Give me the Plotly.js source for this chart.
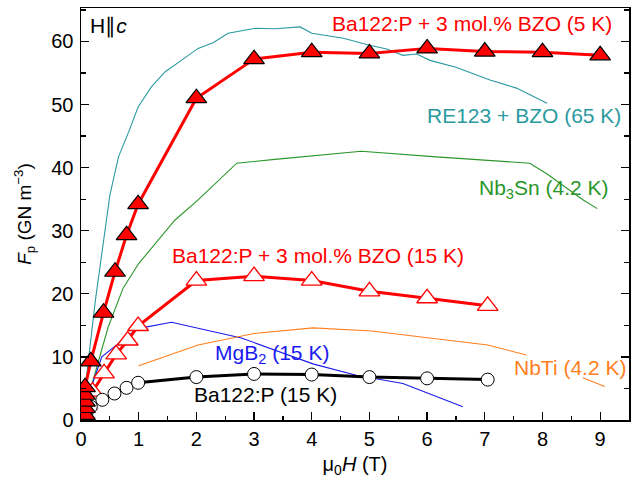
<!DOCTYPE html>
<html>
<head>
<meta charset="utf-8">
<script src="https://cdn.plot.ly/plotly-3.0.1.min.js"></script>
<style>html,body{margin:0;padding:0;background:#fff;}#chart{width:632px;height:479px;}</style>
</head>
<body>
<div id="chart"></div>
<script>
// Ba122:P + 3 mol.% BZO (5 K) - filled triangles
const bzo5_x = [0.07, 0.07, 0.07, 0.07, 0.07, 0.17, 0.39, 0.59, 0.79, 0.99, 2.0, 3.0, 4.0, 5.0, 6.0, 7.0, 8.0, 9.0];
const bzo5_y = [0.8, 1.9, 2.9, 4.0, 5.2, 9.3, 17.0, 23.5, 29.3, 34.2, 51.0, 57.2, 58.3, 58.1, 58.9, 58.4, 58.3, 57.8];
// Ba122:P + 3 mol.% BZO (15 K) - open triangles
const bzo15_x = [0.05, 0.1, 0.2, 0.4, 0.61, 0.81, 0.99, 2.0, 3.0, 4.0, 5.0, 6.0, 7.05];
const bzo15_y = [1.0, 2.4, 4.5, 7.4, 10.4, 12.6, 14.9, 22.1, 22.8, 22.1, 20.4, 19.3, 18.1];
// Ba122:P (15 K) - open circles
const ba15_x = [0.05, 0.1, 0.17, 0.37, 0.58, 0.79, 0.99, 2.0, 3.0, 4.0, 5.0, 6.0, 7.05];
const ba15_y = [0.6, 1.3, 2.1, 3.2, 4.2, 5.1, 5.9, 6.8, 7.3, 7.2, 6.8, 6.6, 6.4];
// RE123 + BZO (65 K)
const re_x = [0.02, 0.25, 0.5, 0.65, 0.82, 0.99, 1.22, 1.46, 1.74, 2.03, 2.29, 2.55, 3.02, 3.36, 3.8, 4.0, 4.55, 5.0, 5.3, 5.58, 5.82, 6.05, 6.5, 7.09, 7.55, 8.08];
const re_y = [1.0, 19.0, 35.6, 41.7, 45.5, 49.6, 52.8, 55.2, 57.0, 58.9, 59.8, 61.3, 62.1, 62.0, 62.3, 61.3, 60.5, 59.4, 58.8, 57.8, 58.0, 57.0, 55.9, 53.9, 52.6, 50.2];
// Nb3Sn (4.2 K)
const nb3sn_x = [0.02, 0.2, 0.47, 0.73, 1.0, 1.63, 2.03, 2.7, 3.36, 4.86, 6.16, 7.78, 8.08, 8.7, 8.95];
const nb3sn_y = [0.5, 6.0, 14.7, 20.9, 24.8, 31.7, 34.9, 40.7, 41.3, 42.6, 41.7, 40.7, 39.0, 34.9, 33.5];
// MgB2 (15 K)
const mgb2_x = [0.04, 0.14, 0.36, 0.62, 0.88, 1.05, 1.57, 2.78, 4.02, 4.77, 5.58, 6.62];
const mgb2_y = [1.0, 4.2, 10.0, 11.9, 13.8, 14.6, 15.5, 13.0, 8.9, 7.1, 5.8, 2.1];
// NbTi (4.2 K)  (gap where the label sits)
const nbti_x = [1.0, 2.03, 3.0, 4.02, 5.04, 6.05, 7.05, 7.72, null, 8.7, 9.08];
const nbti_y = [8.6, 11.9, 13.7, 14.6, 14.1, 13.0, 11.9, 10.3, null, 6.7, 5.3];

const labels = [
  {text: 'Ba122:P + 3 mol.% BZO (5 K)', x: 6.78, y: 62.8, color: '#ff0000'},
  {text: 'RE123 + BZO (65 K)', x: 7.68, y: 48.2, color: '#2a9aa0'},
  {text: 'Nb<sub>3</sub>Sn (4.2 K)', x: 8.02, y: 36.6, color: '#2a962a'},
  {text: 'Ba122:P + 3 mol.% BZO (15 K)', x: 4.11, y: 26.0, color: '#ff0000'},
  {text: 'MgB<sub>2</sub> (15 K)', x: 3.31, y: 10.4, color: '#1a1aee'},
  {text: 'NbTi (4.2 K)', x: 8.47, y: 8.4, color: '#ff7f1e'},
  {text: 'Ba122:P (15 K)', x: 3.19, y: 4.1, color: '#000000'}
];

const FONT = 'Liberation Sans, Arial, Helvetica, sans-serif';

const thin = (x, y, c) => ({x: x, y: y, mode: 'lines', line: {color: c, width: 1.1}, connectgaps: false, hoverinfo: 'skip'});

const data = [
  thin(re_x, re_y, '#2a9aa0'),
  thin(nb3sn_x, nb3sn_y, '#2a962a'),
  thin(mgb2_x, mgb2_y, '#1a1aee'),
  thin(nbti_x, nbti_y, '#ff7f1e'),
  {x: bzo15_x, y: bzo15_y, mode: 'lines+markers', line: {color: '#ff0000', width: 3},
   marker: {symbol: 'triangle-up', size: 18, color: '#ffffff', line: {color: '#ff0000', width: 1.3}}},
  {x: ba15_x, y: ba15_y, mode: 'lines+markers', line: {color: '#000000', width: 3},
   marker: {symbol: 'circle', size: 13, color: '#ffffff', line: {color: '#000000', width: 1}}},
  {x: bzo5_x, y: bzo5_y, mode: 'lines+markers', line: {color: '#ff0000', width: 3},
   marker: {symbol: 'triangle-up', size: 18, color: '#ff0000', line: {color: '#000000', width: 1.2}}}
];

const annotations = labels.map(l => ({
  text: l.text, x: l.x, y: l.y, xref: 'x', yref: 'y', showarrow: false,
  font: {family: FONT, size: 21, color: l.color}, xanchor: 'center', yanchor: 'middle'
}));
annotations.push({text: 'H∥<i>c</i>', xref: 'paper', yref: 'paper', x: 0.012, y: 0.956,
  xanchor: 'left', yanchor: 'middle', showarrow: false, font: {family: FONT, size: 21, color: '#000'}});

const layout = {
  width: 632, height: 479,
  margin: {l: 81, r: 3, t: 8, b: 59},
  paper_bgcolor: '#fff', plot_bgcolor: '#fff',
  showlegend: false,
  font: {family: FONT, size: 20, color: '#000'},
  xaxis: {
    range: [0, 9.5], tickmode: 'linear', tick0: 0, dtick: 1,
    ticks: 'inside', ticklen: 8, tickwidth: 1.3, tickcolor: '#000',
    minor: {dtick: 0.5, ticks: 'inside', ticklen: 4, tickwidth: 1.3, tickcolor: '#000'},
    showline: true, linecolor: '#000', linewidth: 1.5, mirror: true,
    showgrid: false, zeroline: false,
    tickfont: {family: FONT, size: 20},
    title: {text: 'μ<sub>0</sub><i>H</i> (T)', font: {family: FONT, size: 20}, standoff: 8}
  },
  yaxis: {
    range: [0, 65.3], tickmode: 'linear', tick0: 0, dtick: 10,
    ticks: 'inside', ticklen: 8, tickwidth: 1.3, tickcolor: '#000',
    minor: {dtick: 5, ticks: 'inside', ticklen: 5, tickwidth: 1.3, tickcolor: '#000'},
    showline: true, linecolor: '#000', linewidth: 1.5, mirror: 'ticks',
    showgrid: false, zeroline: false,
    tickfont: {family: FONT, size: 20},
    ticklabelstandoff: 2,
    title: {text: '<i>F</i><sub>p</sub> (GN m<sup>−3</sup>)', font: {family: FONT, size: 19}, standoff: 14}
  },
  annotations: annotations
};

Plotly.newPlot('chart', data, layout, {displayModeBar: false, staticPlot: true});
</script>
</body>
</html>
